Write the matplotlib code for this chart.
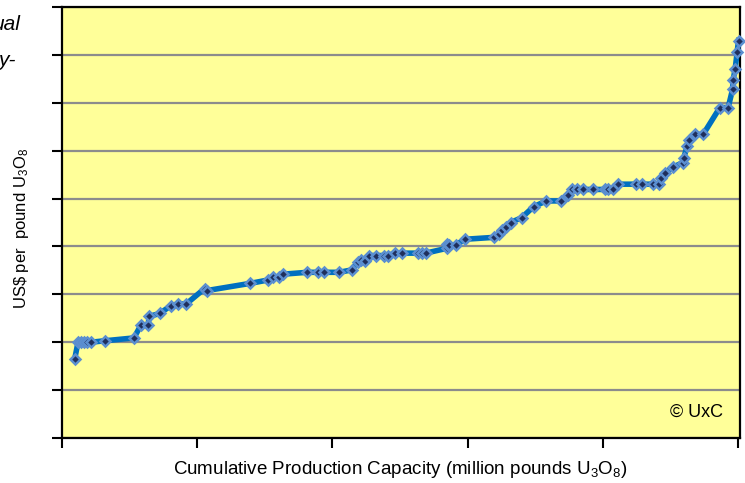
import matplotlib
matplotlib.use("Agg")
import matplotlib.pyplot as plt

plt.rcParams['font.family'] = ['Liberation Sans', 'DejaVu Sans']
plt.rcParams['mathtext.fontset'] = 'custom'
plt.rcParams['mathtext.rm'] = 'Liberation Sans'
plt.rcParams['mathtext.it'] = 'Liberation Sans:italic'

# cumulative capacity (million lbs) vs cost (US$/lb)
capacity = [1.88, 2.37, 2.81, 3.25, 3.70, 4.29, 6.32, 10.65, 11.64, 12.72,
            12.91, 14.45, 16.08, 17.16, 18.38, 21.10, 21.49, 27.88, 30.51, 31.16,
            32.14, 32.64, 36.28, 37.86, 38.71, 41.01, 42.85, 43.73, 44.22, 44.86,
            45.45, 46.44, 47.67, 48.22, 49.25, 50.29, 52.70, 53.20, 53.80, 56.90,
            56.99, 57.24, 58.23, 59.60, 63.94, 64.63, 65.03, 65.67, 66.36, 67.99,
            69.76, 71.63, 73.76, 74.88, 75.38, 76.12, 77.01, 78.53, 80.31, 80.80,
            81.45, 82.28, 84.85, 85.74, 87.36, 88.34, 88.55, 89.18, 90.32, 91.80,
            91.99, 92.48, 92.78, 93.62, 94.85, 97.32, 98.55, 99.20, 99.28, 99.58,
            99.88, 100.08]
cost = [16.5, 20.0, 20.0, 20.0, 20.0, 20.0, 20.3, 20.9, 23.5, 23.5,
        25.4, 26.0, 27.6, 28.0, 28.0, 31.2, 30.8, 32.3, 33.0, 33.7,
        33.6, 34.2, 34.6, 34.6, 34.6, 34.6, 35.1, 36.8, 37.2, 37.0,
        38.1, 38.1, 38.1, 38.1, 38.6, 38.6, 38.6, 38.6, 38.6, 39.6,
        40.5, 40.3, 40.3, 41.5, 41.9, 42.7, 43.4, 44.0, 45.0, 46.0,
        48.3, 49.5, 49.5, 50.7, 51.9, 51.9, 51.9, 51.9, 51.9, 51.9,
        51.9, 53.0, 53.0, 53.0, 53.0, 53.0, 54.2, 55.3, 56.5, 57.5,
        58.5, 61.0, 62.2, 63.4, 63.4, 69.0, 69.0, 72.8, 74.8, 77.0,
        80.6, 83.0]

x_ticks = [0, 20, 40, 60, 80, 100]
y_ticks = [0, 10, 20, 30, 40, 50, 60, 70, 80, 90]

fig = plt.figure(figsize=(7.45, 4.83), dpi=100)
ax = fig.add_axes([62 / 745, 45 / 483, 678 / 745, 431 / 483])
ax.set_facecolor('#FFFF99')

ax.plot(capacity, cost, color='#0070C0', lw=4, solid_joinstyle='round',
        marker='D', markersize=5.5, markerfacecolor='#1F2F5C',
        markeredgecolor='#5B8FD0', markeredgewidth=1.8, zorder=3, clip_on=False)

ax.set_xlim(0, 100.3)
ax.set_ylim(0, 90)
ax.set_xticks(x_ticks)
ax.set_yticks(y_ticks)
ax.set_xticklabels([])
ax.set_yticklabels([])
ax.tick_params(direction='out', length=7, width=1.5, color='black')
ax.yaxis.grid(True, color='#8C8C8C', lw=1.6)
ax.set_axisbelow(True)
for s in ax.spines.values():
    s.set_linewidth(1.6)
    s.set_color('black')

fig.text(400 / 745, 1 - 470 / 483,
         r'Cumulative Production Capacity (million pounds U$_\mathregular{3}$O$_\mathregular{8}$)',
         ha='center', va='center', fontsize=13.5)
fig.text(22 / 745, 1 - 228 / 483,
         r'US\$ per  pound U$_\mathregular{3}$O$_\mathregular{8}$',
         ha='center', va='center', rotation=90, fontsize=12)

ax.text(0.975, 0.06, '© UxC', transform=ax.transAxes, ha='right', va='center', fontsize=13)

# clipped remnants of text boxes outside the chart
fig.text(20 / 745, 1 - 25 / 483, 'ual', ha='right', va='center', fontsize=15, style='italic')
fig.text(16 / 745, 1 - 60 / 483, 'y-', ha='right', va='center', fontsize=15, style='italic')
fig.text(550 / 745, 1 + 4 / 483, 'y', ha='center', va='baseline', fontsize=12)

fig.savefig('out.png', dpi=100)
